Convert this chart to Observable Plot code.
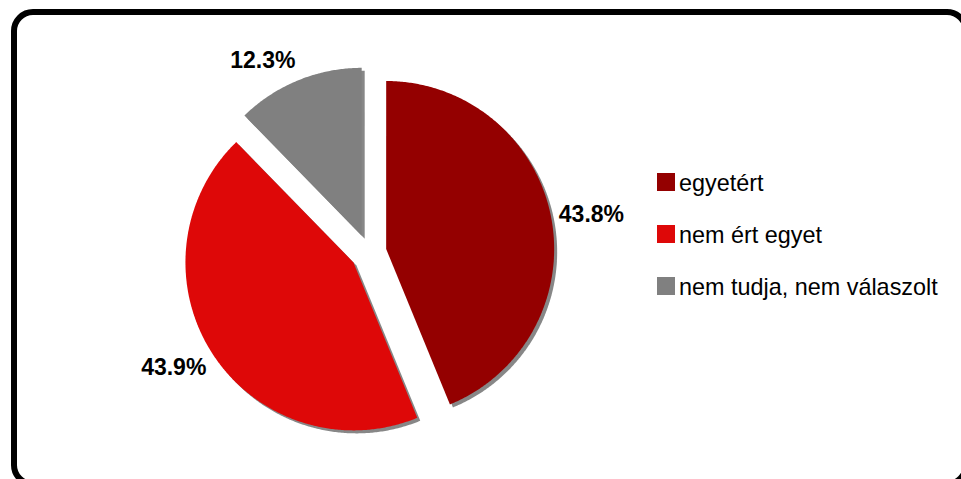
<!DOCTYPE html>
<html>
<head>
<meta charset="utf-8">
<script src="https://cdn.jsdelivr.net/npm/d3@7"></script>
<script src="https://cdn.jsdelivr.net/npm/@observablehq/plot@0.6"></script>
<style>
  html, body { margin: 0; padding: 0; background: #fff; }
  body { font-family: Arial, "Liberation Sans", sans-serif; }
  #wrap { position: relative; width: 961px; height: 479px; overflow: hidden; }
  #chart { position: absolute; left: 0; top: 0; }
  #frame { position: absolute; left: 11px; top: 9px; width: 958px; height: 478px;
           border: 6px solid #000; border-radius: 22px; box-sizing: border-box; pointer-events: none; }
  .item { position: absolute; left: 657px; font-size: 23.4px; line-height: 23px; white-space: nowrap; color: #000; }
  .sw { display: inline-block; width: 18px; height: 18px; margin-right: 4px; vertical-align: baseline; }
</style>
</head>
<body>
<div id="wrap">
  <div id="chart"></div>
  <div id="legend"></div>
  <div id="frame"></div>
</div>
<script>
// ---- data ----
const categories = ["egyetért", "nem ért egyet", "nem tudja, nem válaszolt"];
const values = [43.8, 43.9, 12.3];
const sliceColors = ["#940000", "#DE0808", "#808080"];

// ---- layout ----
const W = 961, H = 479;
const cx = 368, cy = 252, R = 168, EXPLODE = 18, SHADOW = 3, GAP = 8;

const arcs = d3.pie().sort(null).value(d => d)(values);
const polys = [];
const labs = [];
arcs.forEach((a, i) => {
  const mid = (a.startAngle + a.endAngle) / 2;
  const ox = cx + EXPLODE * Math.sin(mid), oy = cy - EXPLODE * Math.cos(mid);
  polys.push({cat: categories[i], x: ox, y: oy});
  const n = Math.max(2, Math.ceil((a.endAngle - a.startAngle) / (Math.PI / 360)));
  for (let k = 0; k <= n; k++) {
    const t = a.startAngle + (a.endAngle - a.startAngle) * k / n;
    polys.push({cat: categories[i], x: ox + R * Math.sin(t), y: oy - R * Math.cos(t)});
  }
  const dx = Math.sin(mid), dy = -Math.cos(mid);
  labs.push({
    text: d3.format(".1f")(values[i]) + "%",
    x: ox + (R + GAP) * dx,
    y: oy + (R + GAP) * dy,
    h: dx >= 0 ? "start" : "end",
    v: dy < -0.5 ? "bottom" : dy > 0.5 ? "top" : "middle"
  });
});

const groups = d3.groups(labs, d => d.h + "|" + d.v);
const textMarks = groups.map(([key, rows]) => {
  const [h, v] = key.split("|");
  return Plot.text(rows, {
    x: "x", y: "y", text: "text",
    textAnchor: h, lineAnchor: v,
    dy: v === "bottom" ? -5 : 0,
    fontSize: 23, fontWeight: "bold", fill: "#000"
  });
});

const chart = Plot.plot({
  width: W, height: H,
  margin: 0,
  style: {fontFamily: 'Arial, "Liberation Sans", sans-serif', background: "#fff"},
  x: {type: "linear", domain: [0, W], range: [0, W], axis: null},
  y: {type: "linear", domain: [0, H], range: [0, H], axis: null},
  color: {domain: categories, range: sliceColors},
  marks: [
    Plot.line(polys, {x: d => d.x + SHADOW, y: d => d.y + SHADOW, z: "cat", fill: "#878787", stroke: "none", curve: "linear-closed"}),
    Plot.line(polys, {x: "x", y: "y", z: "cat", fill: "cat", stroke: "none", curve: "linear-closed"}),
    ...textMarks
  ]
});
document.getElementById("chart").appendChild(chart);

// ---- legend ----
const legend = document.getElementById("legend");
categories.forEach((c, i) => {
  const div = document.createElement("div");
  div.className = "item";
  div.style.top = (171.5 + i * 52) + "px";
  const sw = document.createElement("span");
  sw.className = "sw";
  sw.style.background = sliceColors[i];
  const t = document.createElement("span");
  t.textContent = c;
  div.appendChild(sw);
  div.appendChild(t);
  legend.appendChild(div);
});
</script>
</body>
</html>
